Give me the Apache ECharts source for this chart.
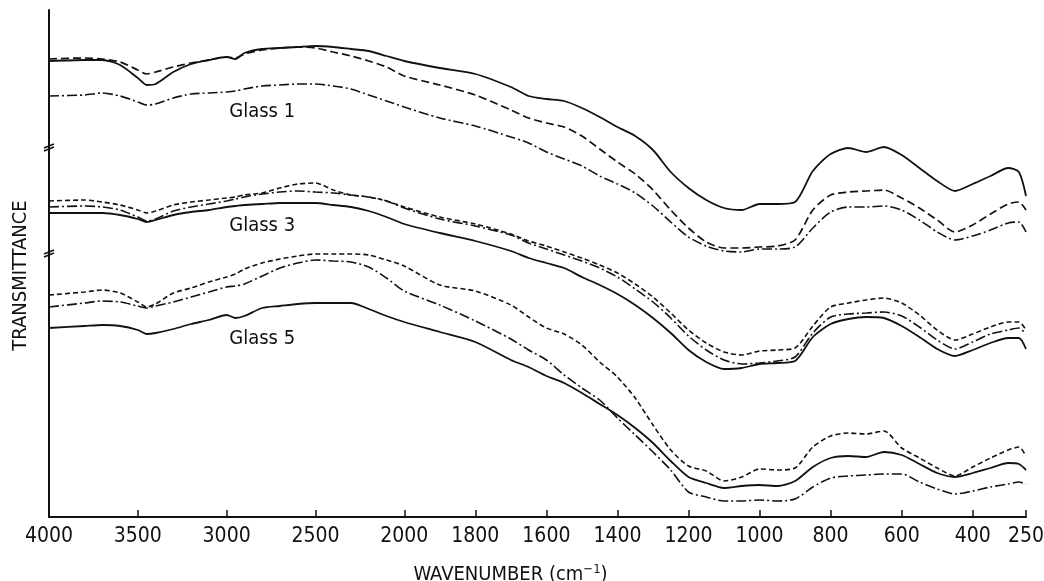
<!DOCTYPE html>
<html>
<head>
<meta charset="utf-8">
<script src="https://cdn.jsdelivr.net/npm/echarts@6/dist/echarts.min.js"></script>
<style>
  html, body { margin: 0; padding: 0; background: #fff; }
  #chart { width: 1044px; height: 581px; }
</style>
</head>
<body>
<div id="chart"></div>
<script>
// wavenumbers (cm-1) at which the traces were read
const wavenumbers = [4000, 3800, 3700, 3600, 3500, 3450, 3400, 3300, 3200, 3100, 3000, 2950, 2900, 2800, 2700, 2600, 2500, 2400, 2300, 2200, 2100, 2000,
  1900, 1800, 1700, 1650, 1600, 1550, 1500, 1450, 1400, 1350, 1300, 1250, 1200, 1150, 1100, 1050, 1000, 950, 900, 850, 800, 750, 700, 650,
  600, 550, 500, 450, 400, 350, 300, 270, 250];

// transmittance, arbitrary units (curves are offset per glass)
const glass1Solid   = [456, 457, 457, 452, 439, 432, 433, 445, 453, 457, 460, 458, 464, 468, 469, 470, 471, 470, 468, 466, 461, 456,
  449, 443, 430, 421, 418, 416, 409, 400, 390, 381, 367, 345, 329, 317, 309, 307, 313, 313, 315, 346, 363, 369, 365, 370,
  362, 349, 336, 326, 333, 341, 349, 345, 321];
const glass1Dashed  = [458, 459, 458, 455, 447, 443, 445, 450, 454, 457, 460, 459, 463, 467, 469, 470, 469, 465, 461, 456, 450, 441,
  432, 422, 407, 399, 394, 390, 381, 368, 355, 343, 327, 307, 289, 275, 269, 269, 270, 271, 277, 307, 322, 325, 326, 327,
  319, 309, 297, 285, 292, 303, 313, 315, 307];
const glass1DashDot = [421, 422, 424, 421, 415, 412, 413, 419, 423, 424, 425, 426, 428, 431, 432, 433, 433, 431, 428, 422, 416, 410,
  399, 391, 380, 374, 365, 358, 351, 341, 333, 324, 311, 295, 280, 271, 266, 265, 268, 268, 270, 289, 305, 310, 310, 311,
  307, 297, 285, 277, 281, 287, 294, 295, 285];

const glass3Dashed  = [316, 317, 315, 312, 307, 304, 306, 312, 315, 317, 319, 320, 322, 324, 329, 333, 334, 327, 322, 320, 316, 310,
  300, 293, 283, 276, 271, 265, 259, 252, 244, 233, 220, 204, 187, 174, 165, 162, 166, 167, 169, 191, 210, 214, 217, 219,
  214, 202, 187, 177, 183, 190, 195, 195, 187];
const glass3DashDot = [310, 311, 310, 307, 300, 296, 298, 306, 310, 313, 316, 318, 320, 323, 325, 326, 325, 324, 322, 320, 316, 309,
  298, 291, 282, 274, 268, 262, 256, 249, 240, 228, 215, 199, 181, 167, 157, 153, 154, 156, 160, 184, 200, 203, 204, 205,
  201, 190, 177, 168, 175, 183, 187, 189, 183];
const glass3Solid   = [304, 304, 304, 302, 298, 295, 297, 302, 305, 307, 310, 311, 312, 313, 314, 314, 314, 312, 310, 306, 300, 293,
  284, 276, 266, 259, 254, 249, 240, 232, 223, 212, 199, 184, 167, 155, 148, 149, 153, 154, 156, 180, 193, 198, 200, 199,
  191, 180, 168, 161, 167, 174, 179, 179, 168];

const glass5Dashed  = [222, 225, 227, 224, 215, 210, 213, 224, 229, 235, 240, 243, 248, 254, 258, 261, 263, 263, 263, 262, 257, 251,
  232, 226, 212, 200, 189, 183, 172, 155, 140, 119, 92, 67, 51, 46, 36, 40, 48, 47, 49, 70, 81, 84, 83, 86,
  69, 59, 49, 41, 50, 59, 67, 70, 61];
const glass5DashDot = [210, 214, 216, 215, 211, 209, 211, 215, 220, 225, 230, 231, 233, 241, 249, 254, 257, 256, 255, 250, 239, 226,
  212, 196, 178, 167, 157, 142, 129, 117, 99, 82, 65, 47, 25, 20, 16, 16, 17, 16, 18, 30, 39, 41, 42, 43,
  43, 35, 28, 23, 26, 30, 33, 35, 33];
const glass5Solid   = [189, 191, 192, 191, 187, 183, 184, 188, 193, 197, 202, 199, 201, 209, 211, 213, 214, 214, 214, 208, 201, 195,
  185, 175, 157, 150, 141, 134, 124, 113, 102, 89, 74, 56, 40, 34, 29, 31, 32, 31, 36, 50, 59, 61, 60, 65,
  62, 53, 44, 40, 44, 49, 54, 53, 47];

const tickWavenumbers = [4000, 3500, 3000, 2500, 2000, 1800, 1600, 1400, 1200, 1000, 800, 600, 400, 250];
const glassNames = ['Glass 1', 'Glass 3', 'Glass 5'];
const glassLabelWavenumber = 2800;
const glassLabelLevel = [405, 291, 178];
const breakLevels = [370, 264];   // where the ordinate is broken

const FONT = "'DejaVu Sans Condensed', 'Liberation Sans Narrow', 'DejaVu Sans', sans-serif";
const INK = '#111';

// the scale changes at 2000 cm-1: 500 cm-1 per division above, 200 cm-1 per division below
function pos(w) {
    return w >= 2000 ? (4000 - w) / 400 : 5 + (2000 - w) / 200;
}
const tickPos = tickWavenumbers.map(pos);

function trace(values, dash, width) {
    return {
        type: 'line',
        data: wavenumbers.map((w, i) => [pos(w), values[i]]),
        showSymbol: false,
        smooth: 0.25,
        silent: true,
        lineStyle: { color: INK, width: width, type: dash }
    };
}

function withLabel(series, k) {
    series.markPoint = {
        symbol: 'rect',
        symbolSize: 0,
        silent: true,
        label: { show: true, formatter: glassNames[k], color: INK, fontSize: 20, fontFamily: FONT },
        data: [{ coord: [pos(glassLabelWavenumber), glassLabelLevel[k]] }]
    };
    return series;
}

const longDash = [8, 4];
const shortDash = [5, 3];
const dashDot = [10, 3, 2, 3];

const chart = echarts.init(document.getElementById('chart'), null, { renderer: 'canvas' });
chart.setOption({
    animation: false,
    backgroundColor: '#fff',
    grid: { left: 49, right: 18, top: 10, bottom: 64, containLabel: false, outerBoundsMode: 'none' },
    xAxis: {
        type: 'value',
        min: 0,
        max: pos(250),
        name: 'WAVENUMBER (cm{sup|\u22121})',
        nameLocation: 'middle',
        nameGap: 46,
        nameTextStyle: {
            color: INK, fontSize: 20, fontFamily: FONT, padding: [0, 54, 0, 0],
            rich: { sup: { fontSize: 13, fontFamily: FONT, color: INK, verticalAlign: 'top', padding: [0, 0, 10, 0] } }
        },
        axisLine: { lineStyle: { color: INK, width: 2 } },
        axisTick: { show: true, inside: true, length: 7, customValues: tickPos, lineStyle: { color: INK, width: 1.5 } },
        axisLabel: {
            customValues: tickPos,
            margin: 9,
            color: INK,
            fontSize: 21,
            fontFamily: FONT,
            formatter: function (v) {
                const i = tickPos.findIndex(p => Math.abs(p - v) < 1e-6);
                return i < 0 ? '' : String(tickWavenumbers[i]);
            }
        },
        splitLine: { show: false }
    },
    yAxis: {
        type: 'value',
        min: 0,
        max: 507,
        name: 'TRANSMITTANCE',
        nameLocation: 'middle',
        nameRotate: 90,
        nameGap: 18,
        nameTextStyle: { color: INK, fontSize: 20, fontFamily: FONT, padding: [0, 24, 0, 0] },
        axisLine: { show: true, lineStyle: { color: INK, width: 2 } },
        axisTick: { show: false },
        axisLabel: { show: false },
        splitLine: { show: false }
    },
    series: [
        withLabel(trace(glass1Solid, 'solid', 1.8), 0),
        trace(glass1Dashed, longDash, 1.7),
        trace(glass1DashDot, dashDot, 1.6),
        withLabel(trace(glass3Solid, 'solid', 1.8), 1),
        trace(glass3Dashed, shortDash, 1.6),
        trace(glass3DashDot, dashDot, 1.6),
        withLabel(trace(glass5Solid, 'solid', 1.8), 2),
        trace(glass5Dashed, shortDash, 1.6),
        trace(glass5DashDot, dashDot, 1.6)
    ]
});

// small break marks on the ordinate
const axisX = chart.convertToPixel({ xAxisIndex: 0 }, 0);
const marks = [];
breakLevels.forEach(function (lv) {
    const y = chart.convertToPixel({ yAxisIndex: 0 }, lv);
    marks.push({ type: 'line', shape: { x1: axisX - 5, y1: y + 1, x2: axisX + 5, y2: y - 3 }, style: { stroke: INK, lineWidth: 1.6 } });
    marks.push({ type: 'line', shape: { x1: axisX - 5, y1: y + 4, x2: axisX + 5, y2: y }, style: { stroke: INK, lineWidth: 1.6 } });
});
chart.setOption({ graphic: marks });
</script>
</body>
</html>
